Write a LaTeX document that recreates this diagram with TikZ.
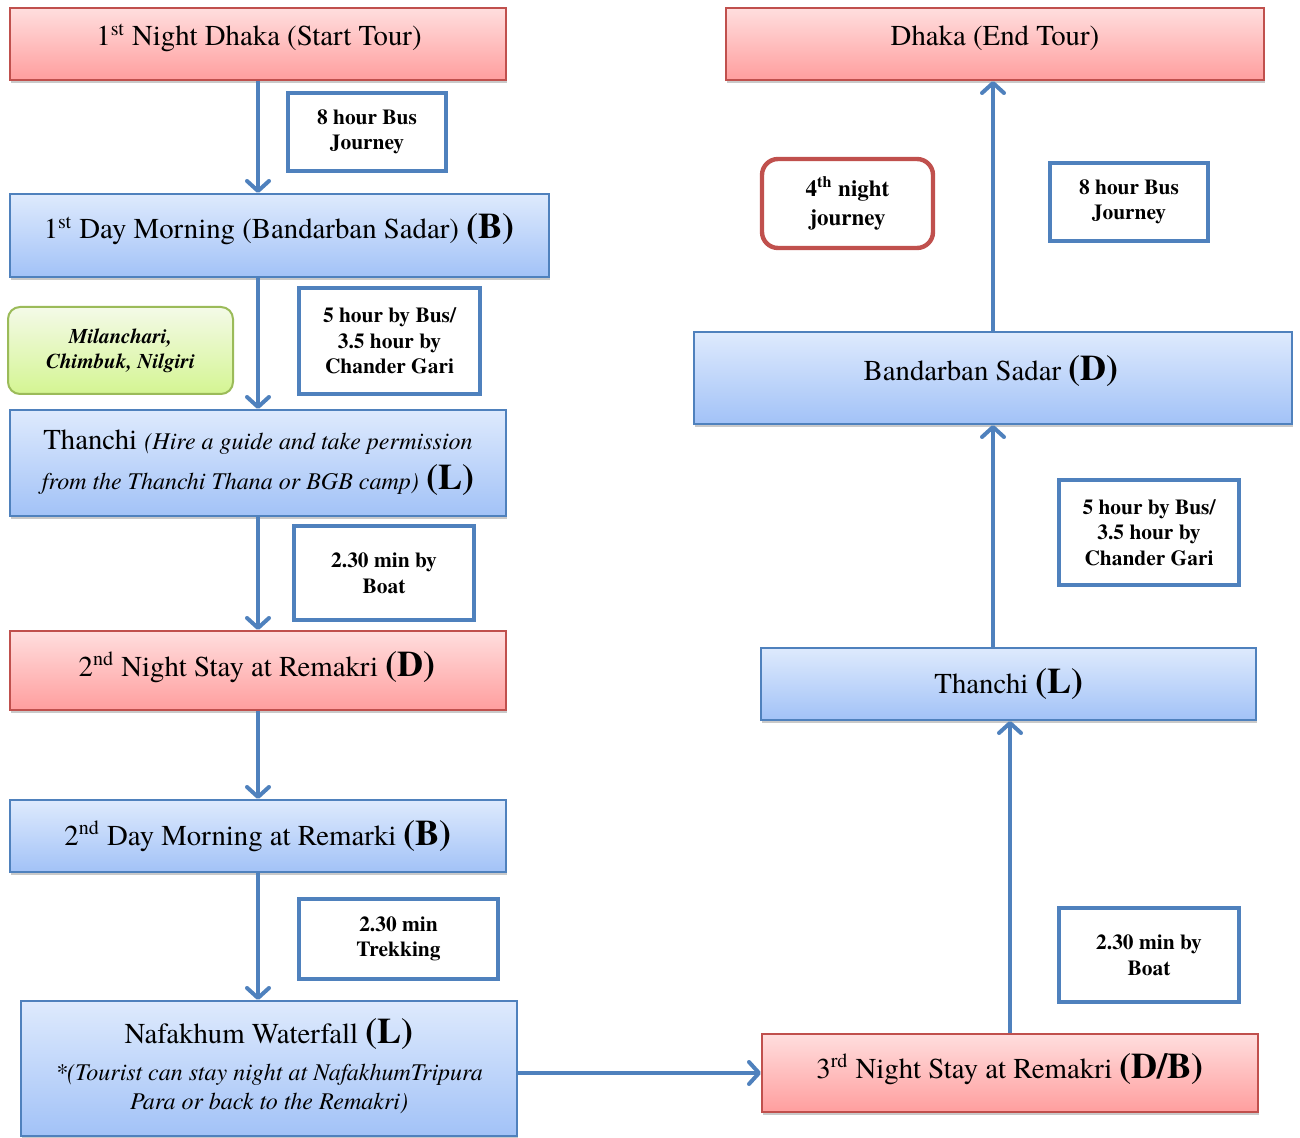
\documentclass[tikz,border=0pt]{standalone}
\usepackage{fontspec}
\setmainfont{texgyretermes}[Extension=.otf,UprightFont=*-regular,BoldFont=*-bold,ItalicFont=*-italic,BoldItalicFont=*-bolditalic]
\usetikzlibrary{arrows.meta,shadows}

\definecolor{redline}{RGB}{192,80,77}
\definecolor{redtop}{RGB}{255,222,222}
\definecolor{redbot}{RGB}{255,158,158}
\definecolor{blueline}{RGB}{79,129,189}
\definecolor{bluetop}{RGB}{222,234,253}
\definecolor{bluebot}{RGB}{162,194,247}
\definecolor{greenline}{RGB}{155,187,89}
\definecolor{greentop}{RGB}{244,250,232}
\definecolor{greenbot}{RGB}{212,245,146}

% meal tags such as (B), (L), (D)
\newcommand\mealtag[1]{{\fontsize{18}{18}\selectfont\bfseries #1}}
% small italic remarks inside the stop boxes
\newcommand\remark[1]{{\fontsize{12}{12}\selectfont\itshape #1}}

\begin{document}
\begin{tikzpicture}[x=0.5pt,y=-0.5pt,
  boxshadow/.style={drop shadow={shadow xshift=0.6pt,shadow yshift=-1.6pt,opacity=0.3,fill=black!70}},
  redbox/.style={draw=redline,line width=1pt,top color=redtop,bottom color=redbot,boxshadow,inner sep=0pt},
  bluebox/.style={draw=blueline,line width=1pt,top color=bluetop,bottom color=bluebot,boxshadow,inner sep=0pt},
  greenbox/.style={draw=greenline,line width=1pt,top color=greentop,bottom color=greenbot,rounded corners=6pt,
    align=center,inner sep=0pt,font=\fontsize{10.5}{12.5}\selectfont\bfseries\itshape},
  stoptext/.style={inner sep=0pt,align=center,font=\fontsize{14.4}{17}\selectfont},
  travel/.style={draw=blueline,line width=2.2pt,fill=white,align=center,inner sep=0pt,
    font=\fontsize{10.7}{12.8}\selectfont\bfseries},
  nightnote/.style={draw=redline,line width=2.2pt,fill=white,rounded corners=8pt,align=center,inner sep=0pt,
    font=\fontsize{11.5}{14.5}\selectfont\bfseries},
  route/.style={draw=blueline,line width=2pt,-{Straight Barb[length=5pt,width=11pt,round]}}
]
\useasboundingbox (0,0) rectangle (1300,1138);

% ---- left column: outward trip ----
\node[redbox,minimum width=248pt,minimum height=36pt] (dstart) at (258,44) {};
\node[stoptext,anchor=base] (dstartT) at (259,46) {1\textsuperscript{st} Night Dhaka (Start Tour)};

\node[bluebox,minimum width=269.5pt,minimum height=41.5pt] (day1) at (279.5,235.5) {};
\node[stoptext,anchor=base] (day1T) at (279,239) {1\textsuperscript{st} Day Morning (Bandarban Sadar) \mealtag{(B)}};

\node[greenbox,minimum width=112.5pt,minimum height=43.5pt] (sights) at (120.5,350.5) {Milanchari,\\Chimbuk, Nilgiri};

\node[bluebox,minimum width=248pt,minimum height=53pt] (than1) at (258,463) {};
\node[stoptext,font=\fontsize{14.4}{20}\selectfont] (than1T) at (258,463)
  {Thanchi \remark{(Hire a guide and take permission}\\
   \remark{from the Thanchi Thana or BGB camp)} \mealtag{(L)}};

\node[redbox,minimum width=248pt,minimum height=39.5pt] (night2) at (258,670.5) {};
\node[stoptext,anchor=base] (night2T) at (257,676) {2\textsuperscript{nd} Night Stay at Remakri \mealtag{(D)}};

\node[bluebox,minimum width=248pt,minimum height=36pt] (day2) at (258,836) {};
\node[stoptext,anchor=base] (day2T) at (258,845) {2\textsuperscript{nd} Day Morning at Remarki \mealtag{(B)}};

\node[bluebox,minimum width=248pt,minimum height=67.5pt] (nafa) at (269,1068.5) {};
\node[stoptext,font=\fontsize{14.4}{14.5}\selectfont] (nafaT) at (269,1066)
  {Nafakhum Waterfall \mealtag{(L)}\\[4pt]
   \remark{*(Tourist can stay night at NafakhumTripura}\\
   \remark{Para or back to the Remakri)}};

% ---- right column: return trip ----
\node[redbox,minimum width=248pt,minimum height=39pt] (night3) at (1010,1073) {};
\node[stoptext,anchor=base] (night3T) at (1010,1078) {3\textsuperscript{rd} Night Stay at Remakri \mealtag{(D/B)}};

\node[bluebox,minimum width=247.5pt,minimum height=36pt] (than2) at (1008.5,684) {};
\node[stoptext,anchor=base] (than2T) at (1009,693) {Thanchi \mealtag{(L)}};

\node[bluebox,minimum width=299pt,minimum height=46pt] (band) at (993,378) {};
\node[stoptext,anchor=base] (bandT) at (991,381) {Bandarban Sadar \mealtag{(D)}};

\node[redbox,minimum width=269pt,minimum height=36pt] (dend) at (995,44) {};
\node[stoptext,anchor=base] (dendT) at (995,46) {Dhaka (End Tour)};

% ---- travel notes ----
\node[travel,minimum width=79pt,minimum height=39pt] (bus1) at (367,132) {8 hour Bus\\Journey};
\node[travel,minimum width=90.5pt,minimum height=53pt] (jeep1) at (389.5,341) {5 hour by Bus/\\3.5 hour by\\Chander Gari};
\node[travel,minimum width=90pt,minimum height=47pt] (boat1) at (384,573) {2.30 min by\\Boat};
\node[travel,minimum width=99.5pt,minimum height=40pt] (trek) at (398.5,939) {2.30 min\\Trekking};
\node[travel,minimum width=79pt,minimum height=39pt] (bus2) at (1129,202) {8 hour Bus\\Journey};
\node[travel,minimum width=90pt,minimum height=52.5pt] (jeep2) at (1149,532.5) {5 hour by Bus/\\3.5 hour by\\Chander Gari};
\node[travel,minimum width=90pt,minimum height=47pt] (boat2) at (1149,955) {2.30 min by\\Boat};
\node[nightnote,minimum width=85.5pt,minimum height=44.5pt] (night4) at (847.5,203.5) {4\textsuperscript{th} night\\journey};

% ---- route ----
\draw[route] (dstart.south) -- (dstart.south |- day1.north);
\draw[route] (than1.north |- day1.south) -- (than1.north);
\draw[route] (than1.south) -- (night2.north);
\draw[route] (night2.south) -- (day2.north);
\draw[route] (day2.south) -- (day2.south |- nafa.north);
\draw[route] (nafa.east |- night3.west) -- (night3.west);
\draw[route] (night3.north) -- (night3.north |- than2.south);
\draw[route] (band.south |- than2.north) -- (band.south);
\draw[route] (band.north) -- (band.north |- dend.south);
\end{tikzpicture}
\end{document}
